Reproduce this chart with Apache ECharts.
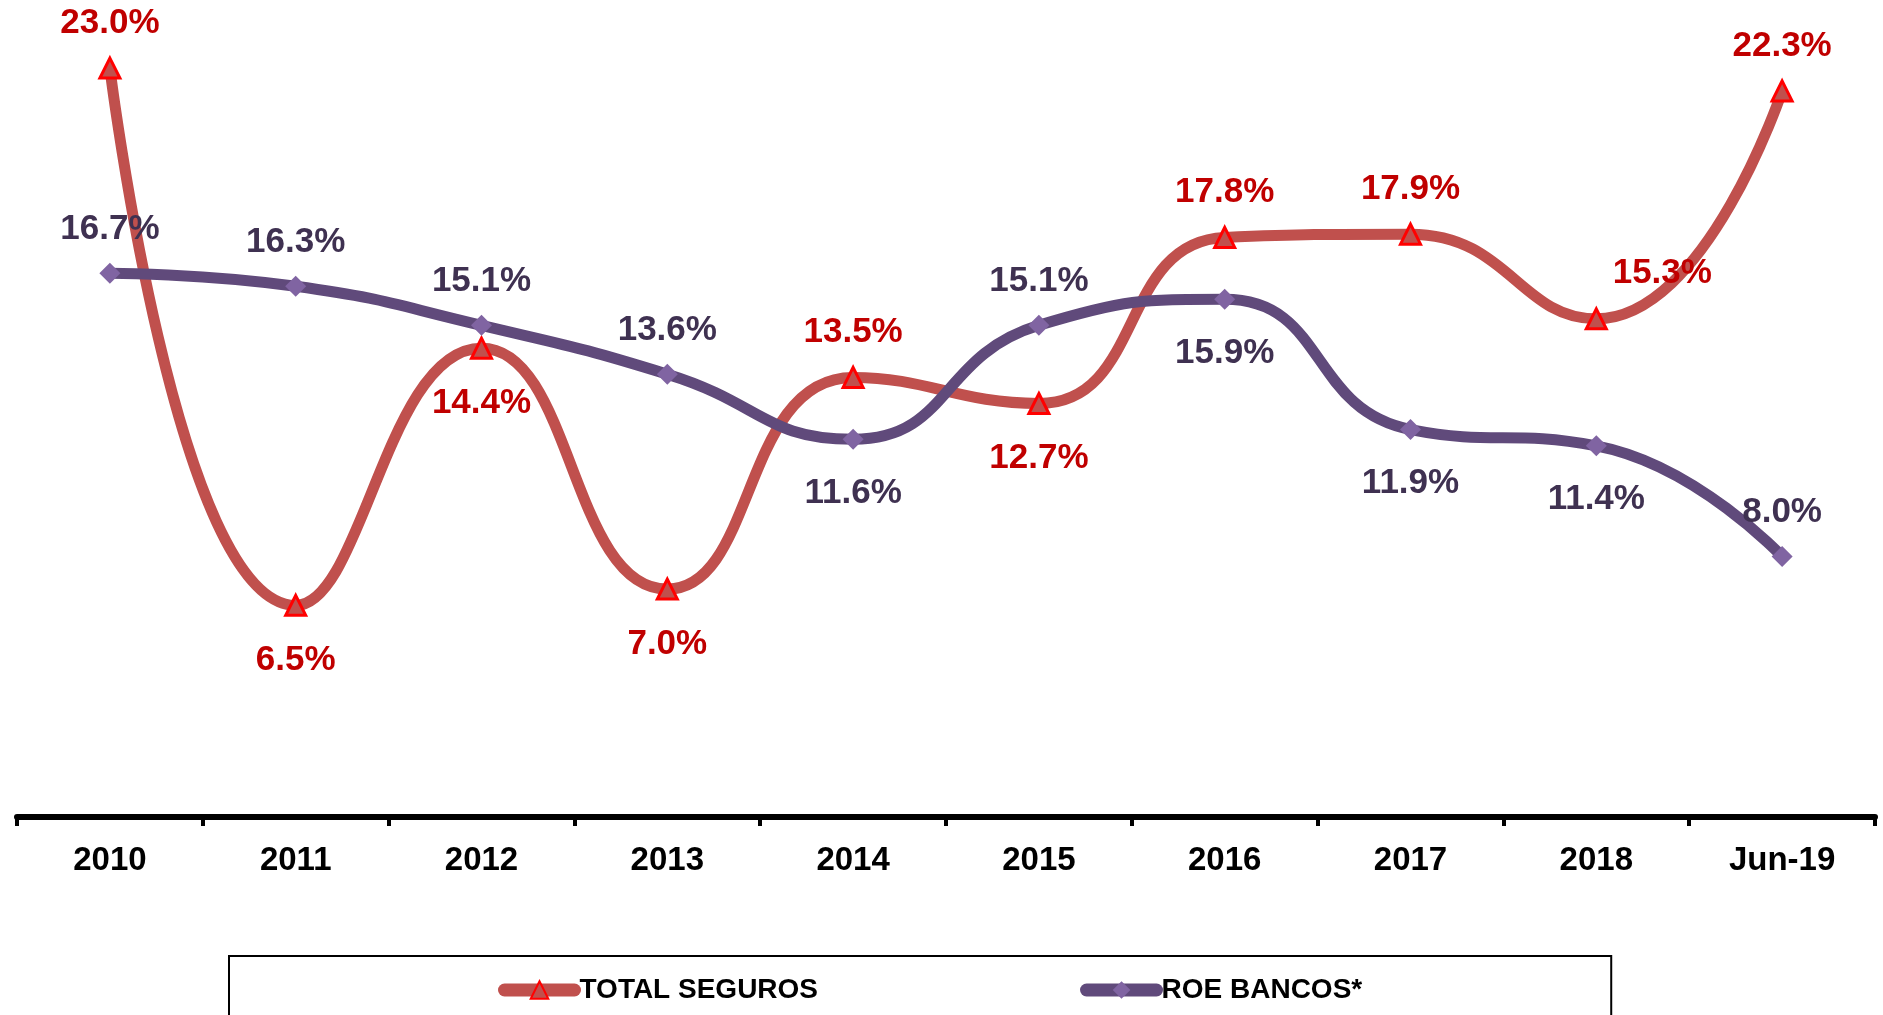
<!DOCTYPE html>
<html>
<head>
<meta charset="utf-8">
<script src="https://cdn.jsdelivr.net/npm/echarts@6/dist/echarts.min.js"></script>
<style>
  html, body { margin: 0; padding: 0; background: #fff; }
  #chart { width: 1883px; height: 1015px; }
</style>
</head>
<body>
<div id="chart"></div>
<script>
var years = ['2010', '2011', '2012', '2013', '2014', '2015', '2016', '2017', '2018', 'Jun-19'];
var totalSeguros = [23.0, 6.5, 14.4, 7.0, 13.5, 12.7, 17.8, 17.9, 15.3, 22.3];
var roeBancos = [16.7, 16.3, 15.1, 13.6, 11.6, 15.1, 15.9, 11.9, 11.4, 8.0];
// donde va cada etiqueta (arriba / abajo del punto)
var segurosPos = ['top', 'bottom', 'bottom', 'bottom', 'top', 'bottom', 'top', 'top', 'top', 'top'];
var roePos = ['top', 'top', 'top', 'top', 'bottom', 'top', 'bottom', 'bottom', 'bottom', 'top'];

var fuente = "'Liberation Sans', Arial, sans-serif";

function buildData(values, pos, shifted) {
    return values.map(function (v, i) {
        var item = {
            value: v,
            label: { position: pos[i], distance: pos[i] === 'top' ? 16 : 26 }
        };
        if (shifted && shifted[i]) {
            item.label.offset = shifted[i];
        }
        return item;
    });
}

var myChart = echarts.init(document.getElementById('chart'));

var option = {
    animation: false,
    grid: { left: 17, right: 8, top: 3, bottom: 198 },
    xAxis: {
        type: 'category',
        data: years,
        boundaryGap: true,
        axisLine: { show: true, lineStyle: { color: '#000', width: 6 } },
        axisTick: { show: true, inside: false, length: 9, lineStyle: { color: '#000', width: 4 } },
        axisLabel: {
            color: '#000',
            fontFamily: fuente,
            fontWeight: 'bold',
            fontSize: 33,
            margin: 27
        }
    },
    yAxis: {
        type: 'value',
        min: 0,
        max: 25,
        show: false,
        splitLine: { show: false }
    },
    legend: {
        left: 229,
        top: 956,
        padding: [20, 249, 60, 269],
        itemGap: 262,
        itemWidth: 70,
        itemHeight: 22,
        borderColor: '#000',
        borderWidth: 2,
        lineStyle: { width: 13, cap: 'round' },
        textStyle: {
            color: '#000',
            fontFamily: fuente,
            fontWeight: 'bold',
            fontSize: 28
        },
        data: ['TOTAL SEGUROS', 'ROE BANCOS*']
    },
    series: [{
        name: 'TOTAL SEGUROS',
        type: 'line',
        smooth: 0.5,
        data: buildData(totalSeguros, segurosPos, { 8: [66, 0] }),
        symbol: 'triangle',
        symbolSize: 20,
        lineStyle: { color: '#C0504D', width: 11 },
        itemStyle: { color: '#C0504D', borderColor: '#FF0000', borderWidth: 3 },
        label: {
            show: true,
            color: '#C00000',
            fontFamily: fuente,
            fontWeight: 'bold',
            fontSize: 35,
            formatter: function (p) { return p.value.toFixed(1) + '%'; }
        },
        z: 3
    }, {
        name: 'ROE BANCOS*',
        type: 'line',
        smooth: 0.5,
        data: buildData(roeBancos, roePos),
        symbol: 'diamond',
        symbolSize: 21,
        lineStyle: { color: '#604A7B', width: 11 },
        itemStyle: { color: '#8064A2', borderWidth: 0 },
        label: {
            show: true,
            color: '#3F3151',
            fontFamily: fuente,
            fontWeight: 'bold',
            fontSize: 35,
            formatter: function (p) { return p.value.toFixed(1) + '%'; }
        },
        z: 4
    }]
};

myChart.setOption(option);
</script>
</body>
</html>
